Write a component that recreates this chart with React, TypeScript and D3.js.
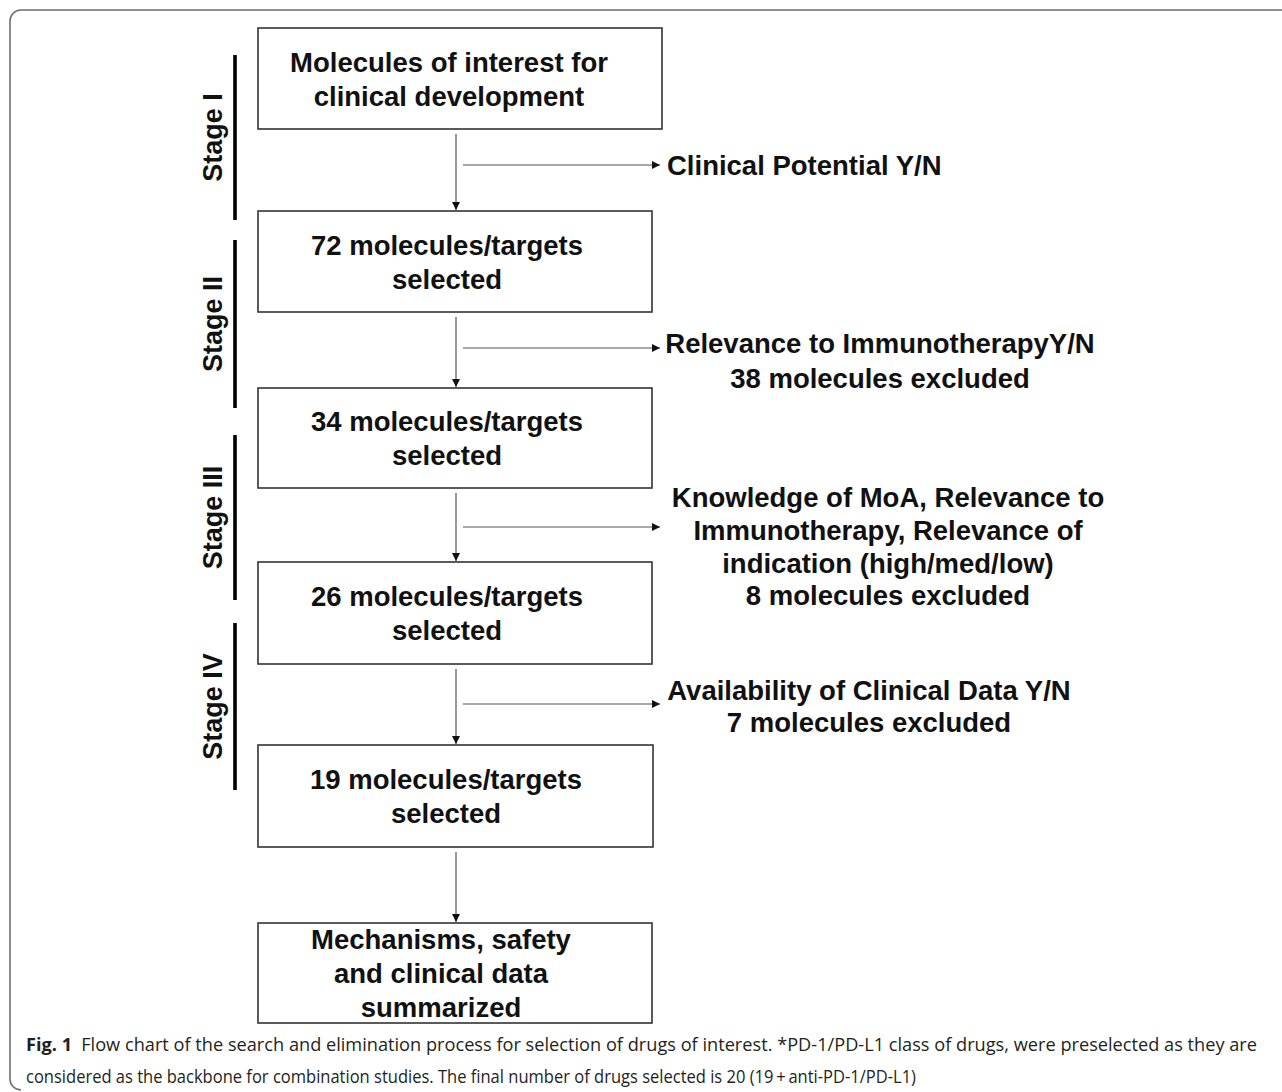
import React, { useEffect, useRef } from "react";
import * as d3 from "d3";

// ---- content ----
const BOX_LINES: string[][] = [
  ["Molecules of interest for", "clinical development"],
  ["72 molecules/targets", "selected"],
  ["34 molecules/targets", "selected"],
  ["26 molecules/targets", "selected"],
  ["19 molecules/targets", "selected"],
  ["Mechanisms, safety", "and clinical data", "summarized"],
];
const SIDE_NOTES: string[][] = [
  ["Clinical Potential Y/N"],
  ["Relevance to ImmunotherapyY/N", "38 molecules excluded"],
  [
    "Knowledge of MoA, Relevance to",
    "Immunotherapy, Relevance of",
    "indication (high/med/low)",
    "8 molecules excluded",
  ],
  ["Availability of Clinical Data Y/N", "7 molecules excluded"],
];
const STAGES: string[] = ["Stage I", "Stage II", "Stage III", "Stage IV"];
const CAPTION_BOLD = "Fig. 1";
const CAPTION_LINE1 =
  "Flow chart of the search and elimination process for selection of drugs of interest. *PD-1/PD-L1 class of drugs, were preselected as they are";
const CAPTION_LINE2 =
  "considered as the backbone for combination studies. The final number of drugs selected is 20 (19\u2009+\u2009anti-PD-1/PD-L1)";

// ---- layout ----
const W = 1282;
const H = 1092;
const LAYOUT = {
  boxTop: [28, 211, 388, 562, 745, 923],
  boxBottom: [129, 312, 488, 664, 847, 1023],
  boxLeft: 258,
  boxRight: [662, 652, 652, 652, 653, 652],
  textCx: [449, 447, 447, 447, 446, 441],
  lineGap: 34,
  arrowX: 456,
  sideArrowY: [165, 348, 527, 704],
  sideArrowX0: 463,
  sideArrowX1: 660,
  noteLineY: [[165], [343, 378], [497, 530, 563, 595], [690, 722]],
  noteX: [667, 880, 888, 869],
  noteAnchor: ["start", "middle", "middle", "middle"],
  stageBarX: 235,
  stageBars: [
    [55, 220],
    [240, 408],
    [435, 600],
    [623, 790],
  ],
  stageTextX: 222,
  captionX: 26,
  captionY: [1051, 1083],
  captionLen: [1231, 890],
};

const FONT = "'Liberation Sans', Arial, Helvetica, sans-serif";

export default function App() {
  const ref = useRef<SVGSVGElement | null>(null);

  useEffect(() => {
    const svg = d3.select(ref.current);
    svg.selectAll("*").remove();

    const defs = svg.append("defs");
    defs
      .append("marker")
      .attr("id", "ah")
      .attr("viewBox", "0 0 10 10")
      .attr("refX", 10)
      .attr("refY", 5)
      .attr("markerWidth", 8)
      .attr("markerHeight", 8)
      .attr("markerUnits", "userSpaceOnUse")
      .attr("orient", "auto")
      .append("path")
      .attr("d", "M0,0 L10,5 L0,10 Z")
      .attr("fill", "#111");

    svg.append("rect").attr("width", W).attr("height", H).attr("fill", "#fff");

    // outer frame
    const r = 11;
    const frame = d3.path();
    frame.moveTo(W, 10);
    frame.lineTo(10 + r, 10);
    frame.arcTo(10, 10, 10, 10 + r, r);
    frame.lineTo(10, H - 2 - r);
    frame.arcTo(10, H - 2, 10 + r, H - 2, r);
    svg
      .append("path")
      .attr("d", frame.toString())
      .attr("fill", "none")
      .attr("stroke", "#6e6e6e")
      .attr("stroke-width", 1.6);

    const idx = d3.range(BOX_LINES.length);
    const top = d3.scaleOrdinal<number, number>().domain(idx).range(LAYOUT.boxTop);
    const bottom = d3.scaleOrdinal<number, number>().domain(idx).range(LAYOUT.boxBottom);

    // boxes
    const boxes = svg.append("g");
    idx.forEach((i) => {
      boxes
        .append("rect")
        .attr("x", LAYOUT.boxLeft)
        .attr("y", top(i))
        .attr("width", LAYOUT.boxRight[i] - LAYOUT.boxLeft)
        .attr("height", bottom(i) - top(i))
        .attr("fill", "#fff")
        .attr("stroke", "#333")
        .attr("stroke-width", 1.6);
      const lines = BOX_LINES[i];
      const cy = (top(i) + bottom(i)) / 2;
      lines.forEach((ln, j) => {
        const y = cy + (j - (lines.length - 1) / 2) * LAYOUT.lineGap + 10;
        boxes
          .append("text")
          .attr("x", LAYOUT.textCx[i])
          .attr("y", y)
          .attr("text-anchor", "middle")
          .attr("font-family", FONT)
          .attr("font-weight", "bold")
          .attr("font-size", 27.5)
          .attr("fill", "#111")
          .text(ln);
      });
    });

    // vertical arrows
    idx.slice(0, -1).forEach((i) => {
      svg
        .append("line")
        .attr("x1", LAYOUT.arrowX)
        .attr("x2", LAYOUT.arrowX)
        .attr("y1", bottom(i) + 5)
        .attr("y2", top(i + 1) - 1)
        .attr("stroke", "#555")
        .attr("stroke-width", 1.2)
        .attr("marker-end", "url(#ah)");
    });

    // side arrows and notes
    SIDE_NOTES.forEach((note, k) => {
      const y = LAYOUT.sideArrowY[k];
      svg
        .append("line")
        .attr("x1", LAYOUT.sideArrowX0)
        .attr("x2", LAYOUT.sideArrowX1)
        .attr("y1", y)
        .attr("y2", y)
        .attr("stroke", "#555")
        .attr("stroke-width", 1.2)
        .attr("marker-end", "url(#ah)");
      note.forEach((ln, j) => {
        svg
          .append("text")
          .attr("x", LAYOUT.noteX[k])
          .attr("y", LAYOUT.noteLineY[k][j] + 10)
          .attr("text-anchor", LAYOUT.noteAnchor[k])
          .attr("font-family", FONT)
          .attr("font-weight", "bold")
          .attr("font-size", 27.5)
          .attr("fill", "#111")
          .text(ln);
      });
    });

    // stages
    STAGES.forEach((s, k) => {
      const [a, b] = LAYOUT.stageBars[k];
      svg
        .append("line")
        .attr("x1", LAYOUT.stageBarX)
        .attr("x2", LAYOUT.stageBarX)
        .attr("y1", a)
        .attr("y2", b)
        .attr("stroke", "#000")
        .attr("stroke-width", 3.6);
      const cy = (a + b) / 2;
      svg
        .append("text")
        .attr("transform", `translate(${LAYOUT.stageTextX},${cy}) rotate(-90)`)
        .attr("text-anchor", "middle")
        .attr("font-family", FONT)
        .attr("font-weight", "bold")
        .attr("font-size", 27)
        .attr("fill", "#111")
        .text(s);
    });

    // caption
    const cap = svg
      .append("g")
      .attr("font-family", "'Open Sans', 'Noto Sans', sans-serif")
      .attr("fill", "#231f20");
    const t1 = cap
      .append("text")
      .attr("x", LAYOUT.captionX)
      .attr("y", LAYOUT.captionY[0])
      .attr("font-size", 18.5)
      .attr("textLength", LAYOUT.captionLen[0])
      .attr("lengthAdjust", "spacingAndGlyphs");
    t1.append("tspan").attr("font-weight", "bold").text(CAPTION_BOLD + "\u2002");
    t1.append("tspan").text(CAPTION_LINE1);
    cap
      .append("text")
      .attr("x", LAYOUT.captionX)
      .attr("y", LAYOUT.captionY[1])
      .attr("font-size", 18.5)
      .attr("textLength", LAYOUT.captionLen[1])
      .attr("lengthAdjust", "spacingAndGlyphs")
      .text(CAPTION_LINE2);
  }, []);

  return (
    <svg
      ref={ref}
      width={W}
      height={H}
      viewBox={`0 0 ${W} ${H}`}
      style={{ position: "absolute", left: 0, top: 0, display: "block" }}
    />
  );
}
